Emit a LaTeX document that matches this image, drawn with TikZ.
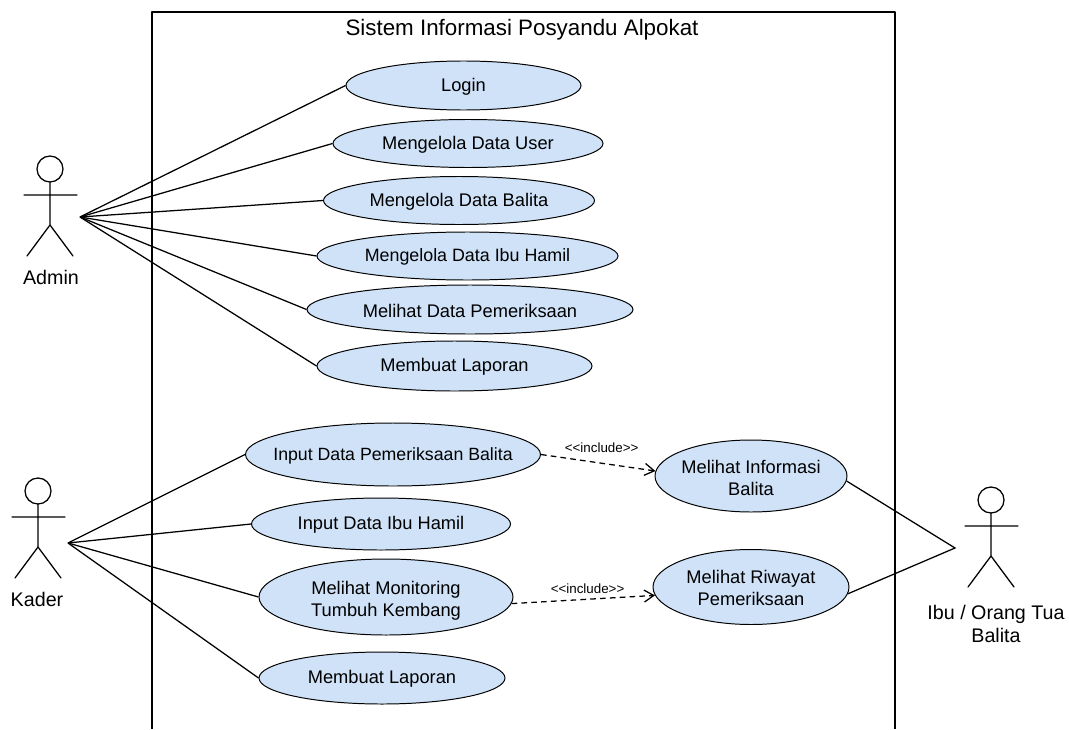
\documentclass[tikz,border=0pt]{standalone}
\usepackage{fontspec}
\setmainfont{Liberation Sans}
\usetikzlibrary{arrows.meta,shapes.geometric}
\definecolor{ucfill}{HTML}{CFE2F8}
\tikzset{
  base/.style={draw=black, line width=0.9pt, line cap=round, line join=round},
  assoc/.style={draw=black, line width=0.9pt},
  incl/.style={draw=black, line width=0.9pt, dash pattern=on 4pt off 3pt, -{Straight Barb[length=2.4mm,width=3mm]}},
  usecase/.style 2 args={ellipse, draw=black, line width=0.7pt, fill=ucfill, inner xsep=-60pt, inner ysep=-20pt,
    minimum width=#1*0.025cm, minimum height=#2*0.025cm, align=center, font=\fontsize{13}{15.5}\selectfont},
  lab/.style={font=\fontsize{14}{16.5}\selectfont, align=center, inner sep=0pt},
  inclab/.style={font=\fontsize{9.5}{11}\selectfont, inner sep=0pt},
}
\begin{document}
\begin{tikzpicture}[x=0.025cm,y=-0.025cm]
  \useasboundingbox (0,0) rectangle (1069,729);
  \draw[base,line cap=butt] (152,729) -- (152,12) -- (895,12) -- (895,729);
  \node[font=\fontsize{15.9}{18}\selectfont,inner sep=0pt] (title) at (522,30) {Sistem Informasi Posyandu Alpokat};
  % use cases
  \foreach \N/\x/\y/\w/\h/\T in {
    login/463.5/85.5/235/49/Login,
    user/468/143.5/270/48/Mengelola Data User,
    balita/459/200.5/271/48/Mengelola Data Balita,
    hamil/467.5/256/301/48/{\fontsize{12.7}{15}\selectfont Mengelola Data Ibu Hamil},
    periksa/470/309.5/326/49/Melihat Data Pemeriksaan,
    laporan/454.5/366/275/50/Membuat Laporan,
    inbalita/393/454.5/295/63/{\fontsize{12.6}{15}\selectfont Input Data Pemeriksaan Balita},
    inhamil/381/524/259/52/Input Data Ibu Hamil,
    monitor/386/597/254/76/{\rule{0pt}{15pt}Melihat Monitoring\\Tumbuh Kembang},
    lapkader/382/678/246/52/Membuat Laporan,
    info/751/476/192/72/{\rule{0pt}{12.5pt}Melihat Informasi\\Balita},
    riwayat/751/587/196/75/{Melihat Riwayat\\Pemeriksaan}}
    \node[usecase={\w}{\h}] (\N) at (\x,\y) {\rule{0pt}{11pt}\T};
  % actors
  \foreach \A/\x/\y in {admin/50/169,kader/38/491,ibu/991/500}{
    \begin{scope}[shift={(\x,\y)}]
      \draw[base] (0,0) circle (13);
      \draw[base] (0,13) -- (0,56) (-26,26) -- (27,26) (-23,87) -- (0,56) -- (23,87);
    \end{scope}
  }
  \node[lab] (adminlab) at (51,277) {Admin};
  \node[lab] (kaderlab) at (37,599) {Kader};
  \node[lab] (ibulab) at (996,624) {Ibu / Orang Tua\\Balita};
  \coordinate (admin) at (80,217);
  \coordinate (kader) at (68,543);
  \coordinate (ibu) at (955,548);
  \foreach \U in {login,user,balita,hamil,periksa,laporan}
    \draw[assoc] (admin) -- (\U.west);
  \foreach \U in {inbalita,inhamil,monitor,lapkader}
    \draw[assoc] (kader) -- (\U.west);
  \draw[assoc] (info.-3) -- (ibu) -- (riwayat.-4);
  \draw[incl] (inbalita.east) -- node[inclab,pos=0.53,above=7pt] (inca) {<{}<include>{}>} (info.177);
  \draw[incl] (monitor.-3) -- node[inclab,pos=0.53,above=3.5pt] (incb) {<{}<include>{}>} (riwayat.-175);
\end{tikzpicture}
\end{document}
